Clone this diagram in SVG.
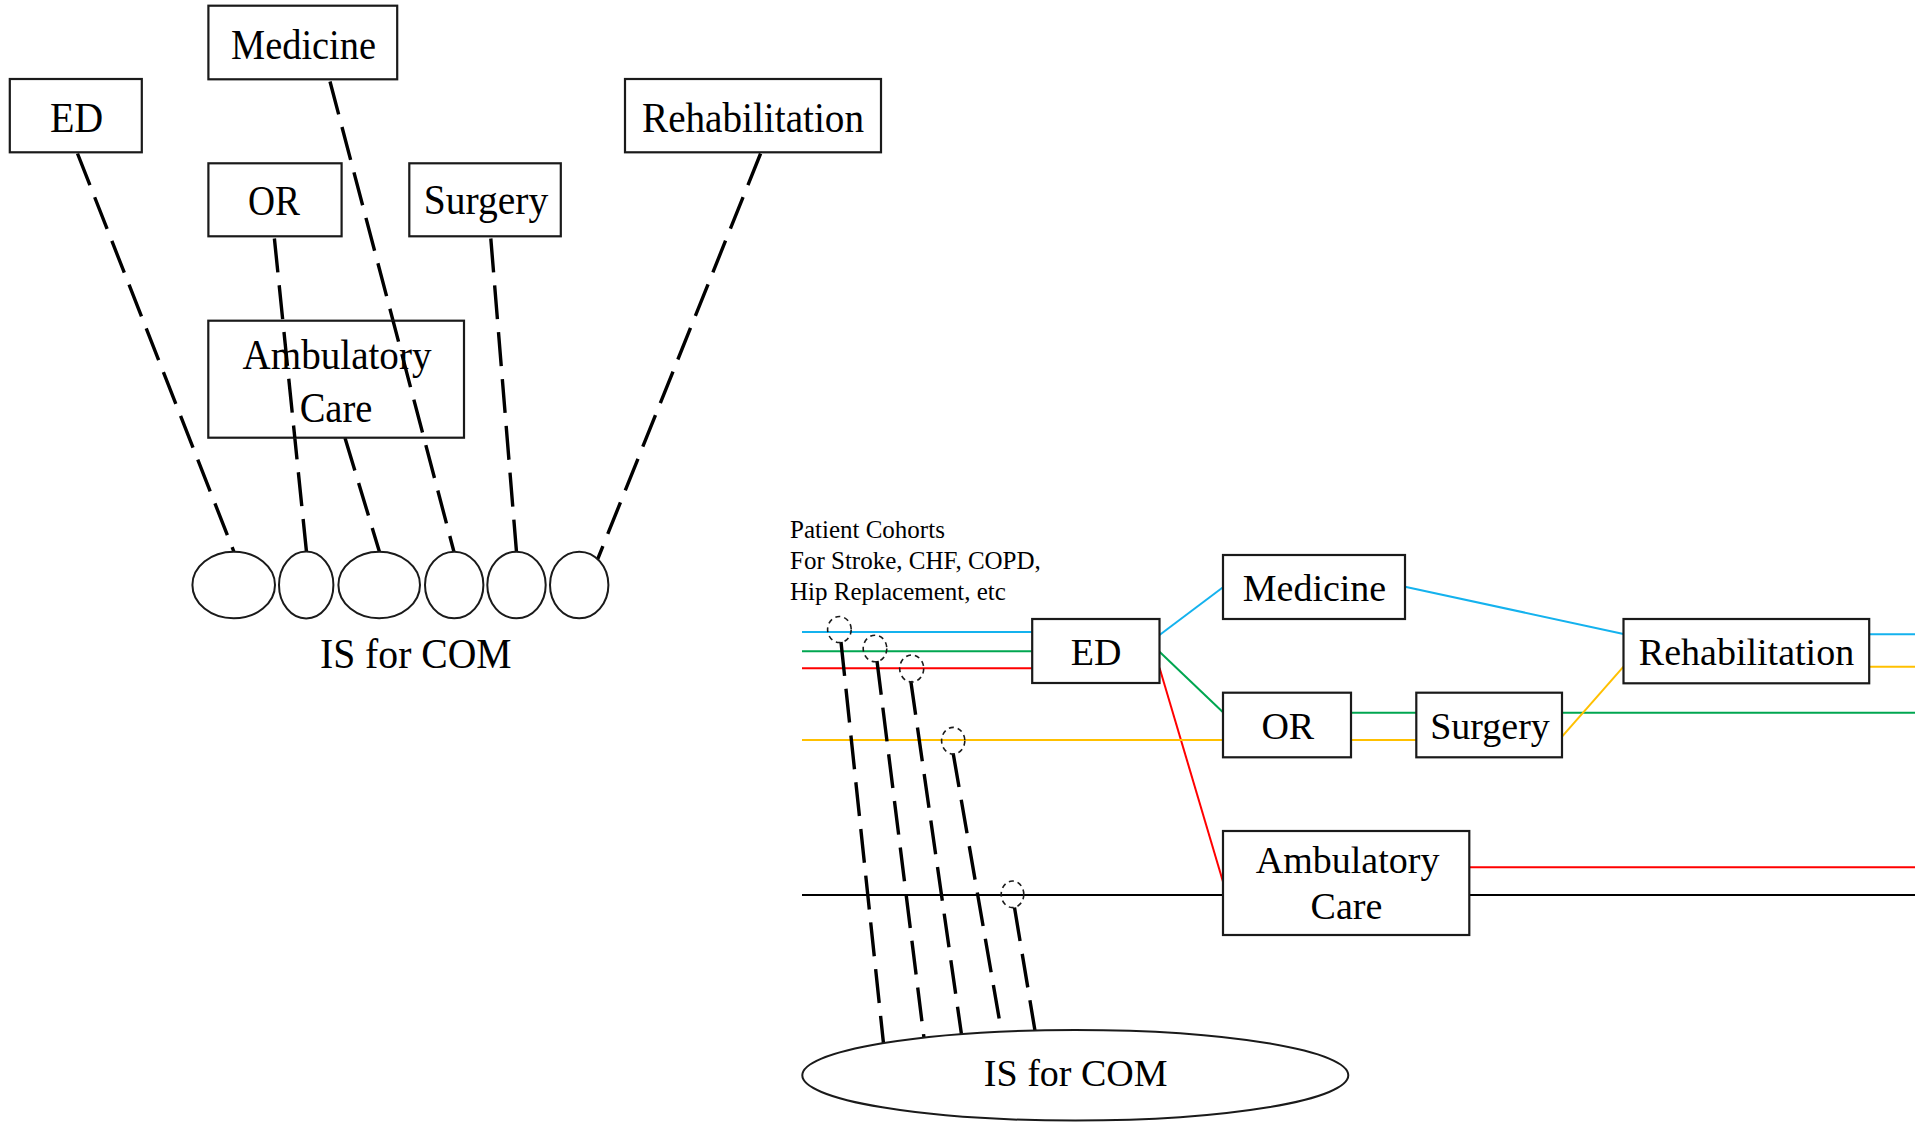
<svg xmlns="http://www.w3.org/2000/svg" width="1915" height="1123" viewBox="0 0 1915 1123">
  <style>
    .box { fill: #ffffff; stroke: #1a1a1a; stroke-width: 2.2; }
    .hub { fill: #ffffff; stroke: #1a1a1a; stroke-width: 2; }
    .lbl { font-family: "Liberation Serif", "Times New Roman", serif; fill: #000000; text-anchor: middle; }
    .big { font-size: 43px; }
    .mid { font-size: 38px; }
    .note { font-family: "Liberation Serif", "Times New Roman", serif; font-size: 25px; fill: #000000; }
    .link { stroke: #000000; stroke-width: 3.4; stroke-dasharray: 34 13; fill: none; }
    .tap { fill: none; stroke: #1a1a1a; stroke-width: 1.6; stroke-dasharray: 5 4; }
    .flow { fill: none; stroke-width: 2; }
    .blue { stroke: #14b2ee; }
    .green { stroke: #00a650; }
    .red { stroke: #ff0000; }
    .yellow { stroke: #ffc000; }
    .black { stroke: #000000; }
  </style>
  <defs>
    <!-- area of the left Ambulatory Care box, where crossing links stay visible -->
    <clipPath id="ambClip">
      <rect x="208.3" y="320.7" width="255.7" height="117"/>
    </clipPath>
  </defs>

  <rect width="1915" height="1123" fill="#ffffff"/>

  <!-- Left: departments each linked to their own IS piece -->
  <g id="left-connectors">
    <line class="link" x1="77.5" y1="153.5" x2="234" y2="552"/>
    <line class="link" x1="274.4" y1="238.5" x2="306.5" y2="552"/>
    <line class="link" x1="345" y1="438" x2="379.5" y2="552"/>
    <line class="link" x1="330" y1="81.5" x2="454" y2="552"/>
    <line class="link" x1="490.8" y1="238.5" x2="516.5" y2="552"/>
    <line class="link" x1="760.6" y1="153.5" x2="596.5" y2="562"/>
  </g>

  <g id="left-ed">
    <rect class="box" x="9.8" y="79" width="132" height="73.3"/>
    <text class="lbl big" x="76.6" y="132.3" textLength="53.4" lengthAdjust="spacingAndGlyphs">ED</text>
  </g>
  <g id="left-medicine">
    <rect class="box" x="208.4" y="5.7" width="188.8" height="73.6"/>
    <text class="lbl big" x="303.5" y="59.3" textLength="145" lengthAdjust="spacingAndGlyphs">Medicine</text>
  </g>
  <g id="left-or">
    <rect class="box" x="208.4" y="163.3" width="133.2" height="73"/>
    <text class="lbl big" x="274" y="215" textLength="52" lengthAdjust="spacingAndGlyphs">OR</text>
  </g>
  <g id="left-surgery">
    <rect class="box" x="409.3" y="163.3" width="151.5" height="73"/>
    <text class="lbl big" x="486" y="214.3" textLength="124.6" lengthAdjust="spacingAndGlyphs">Surgery</text>
  </g>
  <g id="left-rehabilitation">
    <rect class="box" x="625" y="79" width="256" height="73.3"/>
    <text class="lbl big" x="753" y="132" textLength="222" lengthAdjust="spacingAndGlyphs">Rehabilitation</text>
  </g>
  <g id="left-ambulatory">
    <rect class="box" x="208.3" y="320.7" width="255.7" height="117"/>
    <text class="lbl big" x="337" y="369.3" textLength="189" lengthAdjust="spacingAndGlyphs">Ambulatory</text>
    <text class="lbl big" x="336" y="421.7" textLength="72.7" lengthAdjust="spacingAndGlyphs">Care</text>
  </g>
  <!-- the Medicine and OR links run over the Ambulatory Care box -->
  <g id="left-overlap" clip-path="url(#ambClip)">
    <line class="link" x1="330" y1="81.5" x2="454" y2="552"/>
    <line class="link" x1="274.4" y1="238.5" x2="306.5" y2="552"/>
  </g>

  <g id="left-is">
    <ellipse class="hub" cx="233.7" cy="585" rx="41.3" ry="33.3"/>
    <ellipse class="hub" cx="306.2" cy="585" rx="27.2" ry="33.5"/>
    <ellipse class="hub" cx="379.2" cy="585" rx="40.8" ry="33.3"/>
    <ellipse class="hub" cx="454.2" cy="585" rx="29.2" ry="33.3"/>
    <ellipse class="hub" cx="516.5" cy="585" rx="29.2" ry="33.3"/>
    <ellipse class="hub" cx="579.2" cy="585" rx="29.2" ry="33.3"/>
    <text class="lbl big" x="415.8" y="667.7" textLength="191.7" lengthAdjust="spacingAndGlyphs">IS for COM</text>
  </g>

  <!-- Right: patient cohort pathways across departments -->
  <g id="cohort-note">
    <text class="note" x="790" y="538.3">Patient Cohorts</text>
    <text class="note" x="790" y="569">For Stroke, CHF, COPD,</text>
    <text class="note" x="790" y="599.5">Hip Replacement, etc</text>
  </g>

  <g id="right-connectors">
    <!-- blue pathway -->
    <polyline class="flow blue" points="802,632 1032,632"/>
    <polyline class="flow blue" points="1159.5,635 1223,587.3"/>
    <polyline class="flow blue" points="1405,586.7 1623.5,634"/>
    <polyline class="flow blue" points="1869,634.3 1915,634.3"/>
    <!-- green pathway -->
    <polyline class="flow green" points="802,651.3 1032,651.3"/>
    <polyline class="flow green" points="1159.5,651.7 1223,712.3"/>
    <polyline class="flow green" points="1348,712.7 1416,712.7"/>
    <polyline class="flow green" points="1562,712.7 1915,712.7"/>
    <!-- red pathway -->
    <polyline class="flow red" points="802,668.3 1032,668.3"/>
    <polyline class="flow red" points="1159.5,667.7 1223,881.7"/>
    <polyline class="flow red" points="1469,867.3 1915,867.3"/>
    <!-- yellow pathway -->
    <polyline class="flow yellow" points="802,740 1223,740"/>
    <polyline class="flow yellow" points="1348,740 1416,740"/>
    <polyline class="flow yellow" points="1562,736.7 1623.5,666.7"/>
    <polyline class="flow yellow" points="1869,666.7 1915,666.7"/>
    <!-- black pathway -->
    <polyline class="flow black" points="802,895 1223,895"/>
    <polyline class="flow black" points="1469,895 1915,895"/>

    <!-- taps from each pathway into the shared IS -->
    <line class="link" x1="841" y1="642" x2="883.5" y2="1043.5"/>
    <line class="link" x1="877" y1="661" x2="924" y2="1038"/>
    <line class="link" x1="910.8" y1="681" x2="961.5" y2="1034.5"/>
    <line class="link" x1="953.2" y1="753.5" x2="1001.5" y2="1032"/>
    <line class="link" x1="1014.5" y1="907.5" x2="1035" y2="1030.8"/>
    <ellipse class="tap" cx="839.4" cy="629.5" rx="11.8" ry="13"/>
    <ellipse class="tap" cx="875" cy="648.5" rx="11.8" ry="13.3"/>
    <ellipse class="tap" cx="911.7" cy="668.5" rx="12" ry="13.5"/>
    <ellipse class="tap" cx="953.2" cy="740.7" rx="11.6" ry="13.3"/>
    <ellipse class="tap" cx="1012.5" cy="894.3" rx="11.3" ry="13.3"/>
  </g>

  <g id="right-ed">
    <rect class="box" x="1032.2" y="619" width="127.3" height="64"/>
    <text class="lbl mid" x="1096" y="665">ED</text>
  </g>
  <g id="right-medicine">
    <rect class="box" x="1223" y="555" width="182" height="64"/>
    <text class="lbl mid" x="1314.5" y="601">Medicine</text>
  </g>
  <g id="right-or">
    <rect class="box" x="1223" y="692.7" width="128" height="64.6"/>
    <text class="lbl mid" x="1287.8" y="739">OR</text>
  </g>
  <g id="right-surgery">
    <rect class="box" x="1416.3" y="692.7" width="145.7" height="64.6"/>
    <text class="lbl mid" x="1490" y="739">Surgery</text>
  </g>
  <g id="right-rehabilitation">
    <rect class="box" x="1623.5" y="619" width="245.7" height="64.3"/>
    <text class="lbl mid" x="1746.5" y="665">Rehabilitation</text>
  </g>
  <g id="right-ambulatory">
    <rect class="box" x="1223" y="831" width="246.3" height="104"/>
    <text class="lbl mid" x="1347.6" y="873">Ambulatory</text>
    <text class="lbl mid" x="1346.4" y="919">Care</text>
  </g>
  <g id="right-is">
    <ellipse class="hub" cx="1075.3" cy="1075.3" rx="273" ry="45.3"/>
    <text class="lbl mid" x="1075.7" y="1086">IS for COM</text>
  </g>
</svg>
